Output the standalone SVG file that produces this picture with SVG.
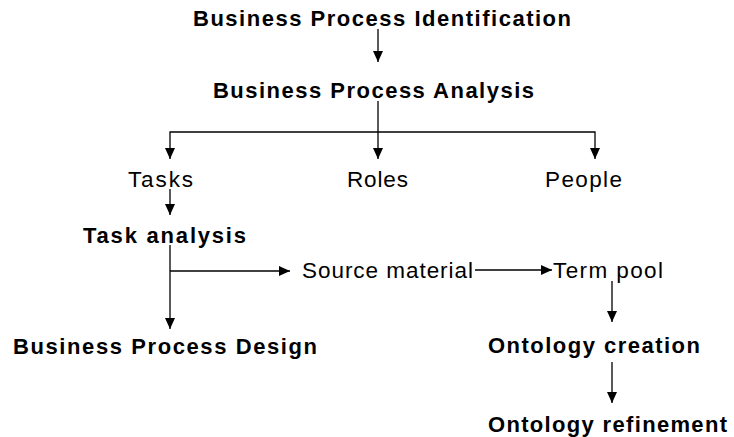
<svg xmlns="http://www.w3.org/2000/svg" width="734" height="437" viewBox="0 0 734 437">
<defs>
<style>
text{font-family:"Liberation Sans",Arial,sans-serif;fill:#000}
.b{font-weight:bold;font-size:22px}
.r{font-size:22.5px}
.c path{fill:none;stroke:#000;stroke-width:1.3}
</style>
<marker id="ah" viewBox="0 0 11 10" refX="11" refY="5" markerWidth="11" markerHeight="10" markerUnits="userSpaceOnUse" orient="auto">
<path d="M0 0 L11 5 L0 10 Z" fill="#000"/>
</marker>
</defs>
<rect width="734" height="437" fill="#fff"/>
<g id="connectors" class="c">
<path d="M378 29 V62" marker-end="url(#ah)"/>
<path d="M378 101 V159" marker-end="url(#ah)"/>
<path d="M378 132 H170 V159" marker-end="url(#ah)"/>
<path d="M378 132 H595 V159" marker-end="url(#ah)"/>
<path d="M170 189 V215" marker-end="url(#ah)"/>
<path d="M170 245 V329" marker-end="url(#ah)"/>
<path d="M170 271 H290" marker-end="url(#ah)"/>
<path d="M475 270 H552" marker-end="url(#ah)"/>
<path d="M612 281 V322" marker-end="url(#ah)"/>
<path d="M612 362 V403" marker-end="url(#ah)"/>
</g>
<g id="bp-identification"><text class="b" x="193" y="26" textLength="378" lengthAdjust="spacing">Business Process Identification</text></g>
<g id="bp-analysis"><text class="b" x="213" y="98" textLength="321" lengthAdjust="spacing">Business Process Analysis</text></g>
<g id="tasks"><text class="r" x="128" y="187" textLength="65" lengthAdjust="spacing">Tasks</text></g>
<g id="roles"><text class="r" x="347" y="187" textLength="61" lengthAdjust="spacing">Roles</text></g>
<g id="people"><text class="r" x="545" y="187" textLength="77" lengthAdjust="spacing">People</text></g>
<g id="task-analysis"><text class="b" x="83" y="243" textLength="163" lengthAdjust="spacing">Task analysis</text></g>
<g id="source-material"><text class="r" x="302" y="278" textLength="171" lengthAdjust="spacing">Source material</text></g>
<g id="term-pool"><text class="r" x="553" y="278" textLength="110" lengthAdjust="spacing">Term pool</text></g>
<g id="bp-design"><text class="b" x="13" y="354" textLength="304" lengthAdjust="spacing">Business Process Design</text></g>
<g id="ontology-creation"><text class="b" x="488" y="353" textLength="212" lengthAdjust="spacing">Ontology creation</text></g>
<g id="ontology-refinement"><text class="b" x="488" y="432" textLength="239" lengthAdjust="spacing">Ontology refinement</text></g>
</svg>
